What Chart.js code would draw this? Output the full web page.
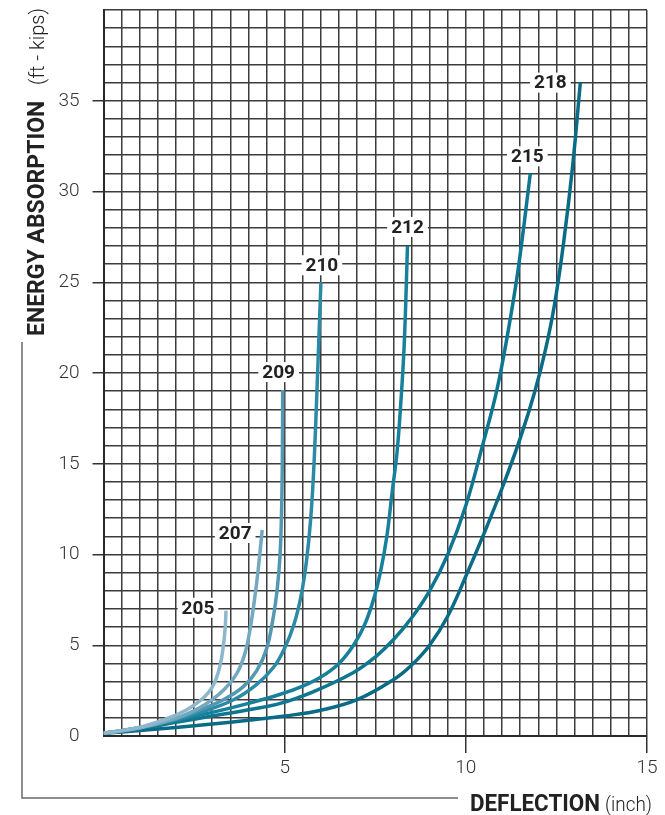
<!DOCTYPE html>
<html>
<head>
<meta charset="utf-8">
<script src="https://cdn.jsdelivr.net/npm/chart.js@4.4.1/dist/chart.umd.min.js"></script>
<style>
  html, body { margin: 0; padding: 0; background: #ffffff; }
  canvas { display: block; }
</style>
</head>
<body>
<canvas id="energychart" width="665" height="815"></canvas>
<script>
// buffer models
const models = ['205', '207', '209', '210', '212', '215', '218'];

// deflection (inch) / energy absorption (ft-kips)
const defl205 = [0, 1, 1.75, 2.3, 2.67, 2.9, 3.08, 3.22, 3.31, 3.36, 3.38];
const energy205 = [0.15, 0.48, 0.95, 1.45, 1.95, 2.4, 3.0, 3.9, 5.0, 6.0, 6.9];

const defl207 = [0, 1, 2, 2.6, 3.0, 3.35, 3.68, 3.88, 4.02, 4.14, 4.26, 4.38];
const energy207 = [0.15, 0.45, 0.98, 1.5, 2.0, 2.6, 3.45, 4.4, 5.6, 7.1, 9.0, 11.35];

const defl209 = [0, 1, 2, 2.67, 3.31, 3.86, 4.23, 4.5, 4.69, 4.8, 4.87, 4.91, 4.935, 4.945];
const energy209 = [0.15, 0.45, 0.95, 1.45, 2.0, 2.72, 3.6, 4.8, 6.6, 8.2, 9.9, 12.0, 15.0, 19.06];

const defl210 = [0, 1, 2, 2.67, 3.59, 4.23, 4.7, 5.0, 5.25, 5.45, 5.6, 5.72, 5.81, 5.9, 6.0];
const energy210 = [0.15, 0.45, 0.9, 1.3, 2.0, 2.85, 3.8, 4.85, 6.1, 7.7, 9.6, 12.0, 15.0, 19.5, 25.0];

const defl212 = [0, 1, 2, 3, 4, 4.88, 5.5, 6.0, 6.5, 6.9, 7.2, 7.45, 7.65, 7.82, 7.97, 8.1, 8.2, 8.3, 8.39];
const energy212 = [0.15, 0.45, 0.85, 1.3, 1.8, 2.3, 2.75, 3.25, 4.0, 5.0, 6.1, 7.5, 9.1, 11.0, 13.5, 15.6, 18.2, 21.6, 27.0];

const defl215 = [0, 1, 2, 3, 4, 4.88, 5.8, 6.9, 7.5, 8.0, 8.5, 9.0, 9.5, 10.0, 10.5, 10.85, 11.15, 11.45, 11.78];
const energy215 = [0.15, 0.4, 0.75, 1.1, 1.45, 1.8, 2.45, 3.5, 4.35, 5.3, 6.5, 8.0, 10.0, 12.7, 16.3, 19.0, 22.1, 25.8, 31.0];

const defl218 = [0, 1, 2, 3, 4, 5, 6, 7, 8, 8.5, 9.0, 9.5, 10.0, 10.5, 11.0, 11.5, 11.9, 12.2, 12.45, 12.7, 12.95, 13.16];
const energy218 = [0.15, 0.3, 0.47, 0.66, 0.87, 1.1, 1.42, 2.0, 3.1, 3.9, 5.0, 6.6, 8.8, 11.15, 13.65, 16.4, 18.95, 21.3, 23.8, 27.2, 31.45, 36.0];

const deflections = [defl205, defl207, defl209, defl210, defl212, defl215, defl218];
const energies = [energy205, energy207, energy209, energy210, energy212, energy215, energy218];

const xTickLabels = [5, 10, 15];
const yTickLabels = [0, 5, 10, 15, 20, 25, 30, 35];

// styling
const lineColors = ['#8db8cb', '#73a9c0', '#5298b2', '#2b8aa6', '#17809b', '#0e7691', '#096b86'];
// where each model number sits relative to the top of its curve (px)
const labelShift = [[-28, -3], [-27, 3], [-4, -18], [1, -17], [0, -19], [-3, -17], [-30, 0]];

const gridColor = '#3c3c3c';
const textColor = '#222222';

const datasets = models.map(function (m, i) {
    return {
        label: m,
        data: deflections[i].map(function (x, j) { return { x: x, y: energies[i][j] }; }),
        showLine: true,
        borderColor: lineColors[i],
        borderWidth: 3.5,
        pointRadius: 0,
        tension: 0.4,
        fill: false
    };
});

const overlay = {
    id: 'overlay',
    afterDatasetsDraw: function (chart) {
        const c = chart.ctx;
        const xs = chart.scales.x;
        const ys = chart.scales.y;

        // model numbers on white patches
        c.save();
        c.font = 'bold 19px Roboto';
        c.textAlign = 'center';
        c.textBaseline = 'middle';
        models.forEach(function (m, i) {
            const n = deflections[i].length - 1;
            const px = xs.getPixelForValue(deflections[i][n]) + labelShift[i][0];
            const py = ys.getPixelForValue(energies[i][n]) + labelShift[i][1];
            const w = c.measureText(m).width;
            c.fillStyle = '#ffffff';
            c.fillRect(px - w / 2 - 4, py - 10, w + 8, 20);
            c.fillStyle = textColor;
            c.fillText(m, px, py + 1);
        });
        c.restore();

        // bracket line joining the two axis titles
        c.save();
        c.strokeStyle = '#6a6a6a';
        c.lineWidth = 1.5;
        c.beginPath();
        c.moveTo(22, 342);
        c.lineTo(22, 798);
        c.lineTo(458, 798);
        c.stroke();

        // y title
        c.fillStyle = textColor;
        c.textAlign = 'left';
        c.textBaseline = 'alphabetic';
        c.translate(44, 336);
        c.rotate(-Math.PI / 2);
        c.font = 'bold 23px Roboto';
        c.fillText('ENERGY ABSORPTION', 0, 0, 248);
        c.font = '300 20px Roboto';
        c.fillText('(ft - kips)', 251, 0, 80);
        c.restore();

        // x title
        c.save();
        c.fillStyle = textColor;
        c.textAlign = 'left';
        c.textBaseline = 'alphabetic';
        c.font = 'bold 24px Roboto';
        c.fillText('DEFLECTION', 470, 811, 130);
        c.font = '300 20px Roboto';
        c.fillText('(inch)', 605, 811, 47);
        c.restore();
    }
};

new Chart(document.getElementById('energychart'), {
    type: 'scatter',
    data: { datasets: datasets },
    plugins: [overlay],
    options: {
        responsive: false,
        animation: false,
        devicePixelRatio: 1,
        layout: { padding: { left: 0, top: 10, right: 18, bottom: 0 } },
        plugins: {
            legend: { display: false },
            tooltip: { enabled: false }
        },
        scales: {
            x: {
                type: 'linear',
                min: 0,
                max: 15,
                afterFit: function (scale) {
                    scale.height = 79;
                    scale.paddingLeft = 0;
                    scale.paddingRight = 0;
                },
                ticks: {
                    stepSize: 0.5,
                    autoSkip: false,
                    maxRotation: 0,
                    padding: 4,
                    color: '#333333',
                    font: { family: 'Roboto', size: 19, weight: '300' },
                    callback: function (v) { return xTickLabels.includes(v) ? String(v) : ''; }
                },
                grid: {
                    color: gridColor,
                    lineWidth: 1.5,
                    tickLength: 17,
                    tickWidth: 1.5,
                    tickColor: function (ctx) { return xTickLabels.includes(ctx.tick.value) ? '#333333' : 'rgba(0,0,0,0)'; }
                },
                border: { display: true, color: '#2a2a2a', width: 2 }
            },
            y: {
                type: 'linear',
                min: 0,
                max: 40,
                afterFit: function (scale) {
                    scale.width = 103.5;
                    scale.paddingTop = 0;
                    scale.paddingBottom = 0;
                },
                ticks: {
                    stepSize: 1,
                    autoSkip: false,
                    padding: 13,
                    color: '#333333',
                    font: { family: 'Roboto', size: 19, weight: '300' },
                    callback: function (v) { return yTickLabels.includes(v) ? String(v) : ''; }
                },
                grid: {
                    color: gridColor,
                    lineWidth: 1.5,
                    tickLength: 11,
                    tickWidth: 1.5,
                    tickColor: function (ctx) { return (yTickLabels.includes(ctx.tick.value) && ctx.tick.value > 0) ? '#333333' : 'rgba(0,0,0,0)'; }
                },
                border: { display: true, color: '#2a2a2a', width: 2 }
            }
        }
    }
});
</script>
</body>
</html>
